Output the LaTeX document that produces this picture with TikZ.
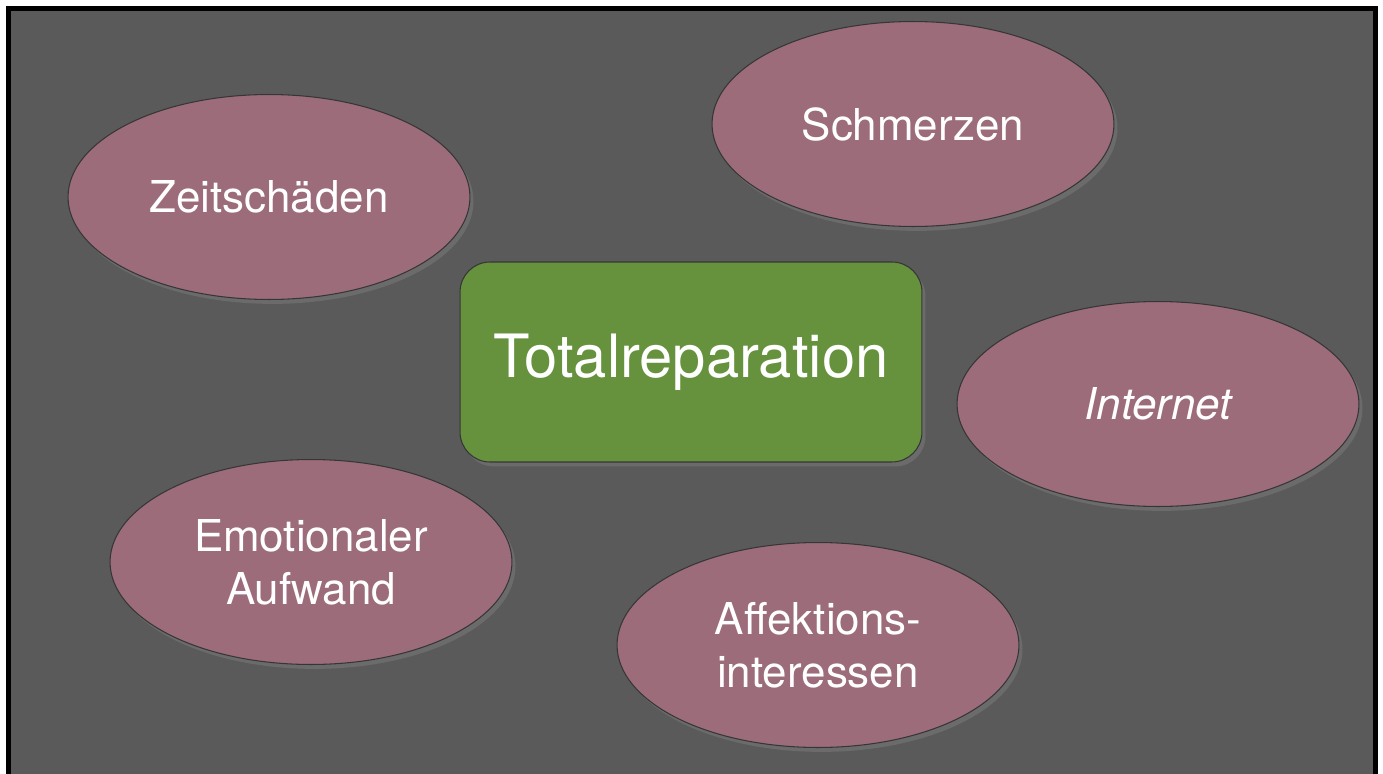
\documentclass[tikz,border=0pt]{standalone}
\usepackage{fontspec}
\setmainfont{TeX Gyre Heros}
\usetikzlibrary{shapes.geometric, shadows}

\definecolor{slategrey}{HTML}{5A5A5A}
\definecolor{mauve}{HTML}{9C6C7A}
\definecolor{leafgreen}{HTML}{67923D}
\definecolor{rimgrey}{HTML}{363636}

\tikzset{
    topic/.style={ellipse, draw=rimgrey, line width=0.6pt, fill=mauve, text=white,
        minimum width=8.04cm, minimum height=4.1cm, inner sep=0pt, align=center,
        font=\fontsize{25}{30}\selectfont,
        drop shadow={opacity=0.45, shadow xshift=2pt, shadow yshift=-2.5pt}},
    core/.style={rectangle, rounded corners=0.6cm, draw=rimgrey, line width=0.6pt,
        fill=leafgreen, text=white, minimum width=9.24cm, minimum height=4cm,
        inner sep=0pt, font=\fontsize{34}{40}\selectfont,
        drop shadow={opacity=0.45, shadow xshift=2pt, shadow yshift=-2.5pt}}
}

\begin{document}
\begin{tikzpicture}[x=0.02cm, y=-0.02cm]
            % Frame
            \useasboundingbox (0,0) rectangle (1383,774);
            \fill[white] (0,0) rectangle (1383,774);
            \draw[line width=3pt, fill=slategrey] (8.5,8.5) rectangle (1375.5,800);

            % Nodes
            \node[core] (total) at (691,362) {Totalreparation};
            \node[topic] (zeit) at (269,197) {Zeitschäden};
            \node[topic] (schmerz) at (913,124) {Schmerzen};
            \node[topic] (internet) at (1158,404) {\itshape Internet};
            \node[topic] (emot) at (311,562) {Emotionaler\\Aufwand};
            \node[topic] (affekt) at (818,645) {Affektions-\\interessen};
        \end{tikzpicture}
\end{document}
